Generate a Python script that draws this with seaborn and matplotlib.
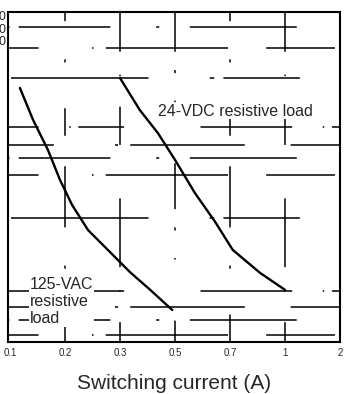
import matplotlib
matplotlib.use("Agg")
import matplotlib.pyplot as plt
import seaborn as sns
import pandas as pd

# curve readings (x in tick units, y in % of plot height)
vac_x = [0.18, 0.42, 0.69, 0.91, 1.13, 1.42, 1.78, 2.18, 2.55, 2.95]
vac_y = [77.0, 67.3, 58.2, 49.1, 41.5, 33.9, 27.9, 21.2, 15.8, 9.7]
vdc_x = [2.0, 2.36, 2.69, 3.0, 3.36, 3.73, 4.05, 4.55, 5.0]
vdc_y = [80.0, 70.3, 63.3, 55.2, 45.2, 36.4, 27.9, 20.9, 15.8]

x_ticks = [0, 1, 2, 3, 4, 5, 6]
x_labels = ["0.1", "0.2", "0.3", "0.5", "0.7", "1", "2"]
grid_y = [95.5, 89.1, 80.0, 65.2, 59.7, 55.8, 50.6, 37.6, 15.5, 10.6, 6.7, 2.1]
y_label_pos = [98.5, 94.5, 90.9]
y_labels = ["300", "200", "100"]

sns.set_style("white")
plt.rcParams['font.family'] = ['Liberation Sans', 'DejaVu Sans']

fig = plt.figure(figsize=(3.47, 3.94), dpi=100)
ax = fig.add_axes([8/347, 52/394, 332/347, 330/394])

df_vac = pd.DataFrame({"x": vac_x, "y": vac_y})
df_vdc = pd.DataFrame({"x": vdc_x, "y": vdc_y})
sns.lineplot(data=df_vac, x="x", y="y", ax=ax, color="black", lw=1.7, sort=False)
sns.lineplot(data=df_vdc, x="x", y="y", ax=ax, color="black", lw=1.7, sort=False)

# broken, faded grid of the scan
h_dash = [(0, (1, 6, 60, 30, 2, 20, 70, 40)),
          (25, (45, 35, 1, 8, 80, 25)),
          (10, (2, 10, 90, 40, 3, 6, 50, 60)),
          (40, (60, 20, 1, 5, 30, 50)),
          (5, (35, 40, 2, 8, 75, 30))]
v_dash = [(0, (18, 30, 2, 25, 40, 20)),
          (12, (25, 20, 1, 15, 45, 35)),
          (30, (2, 12, 30, 40, 1, 18))]
for i, gy in enumerate(grid_y):
    ax.axhline(gy, color="black", lw=1.1, ls=h_dash[i % len(h_dash)])
for i, gx in enumerate(x_ticks[1:-1]):
    ax.axvline(gx, color="black", lw=1.1, ls=v_dash[i % len(v_dash)])

ax.set_xlim(-0.036, 6.0)
ax.set_ylim(0, 100)
ax.set_xticks(x_ticks)
ax.set_xticklabels(x_labels, fontsize=7)
ax.set_yticks([])
ax.tick_params(axis="x", length=0, pad=4)
ax.set_xlabel("Switching current (A)", fontsize=15, labelpad=12)
ax.set_ylabel("")
for s in ax.spines.values():
    s.set_color("black")
    s.set_linewidth(1.5)

for yp, lab in zip(y_label_pos, y_labels):
    ax.text(-0.005, yp, lab, transform=ax.get_yaxis_transform(), ha="right",
            va="center", fontsize=9, clip_on=False)

ax.text(2.69, 70.0, "24-VDC resistive load", fontsize=11.5, va="center",
        ha="left", bbox=dict(fc="white", ec="none", pad=0.5))
ax.text(0.36, 12.3, "125-VAC\nresistive\nload", fontsize=11.5, va="center",
        ha="left", linespacing=1.2, bbox=dict(fc="white", ec="none", pad=0.5))

fig.savefig("out.png", dpi=100)
